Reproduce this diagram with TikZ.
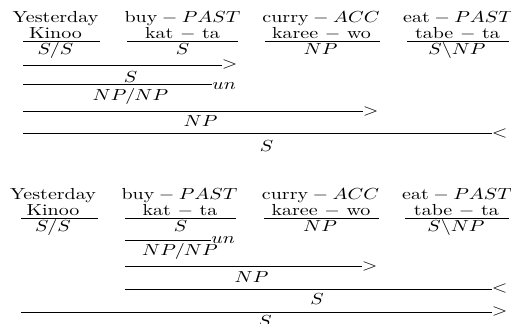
\documentclass[tikz,border=0pt]{standalone}
\newcommand{\sq}[1]{\scalebox{1}[0.8]{#1}}
\begin{document}
\begin{tikzpicture}[x=0.5pt,y=-0.5pt,
  wd/.style={anchor=base,inner sep=0pt,outer sep=0pt},
  rl/.style={anchor=west,inner sep=0pt,outer sep=0pt},
  ul/.style={anchor=base west,inner sep=0pt,outer sep=0pt},
  ln/.style={line width=0.45pt}]
\useasboundingbox (0,0) rectangle (511,324);

% ---------------- top derivation ----------------
\node[wd] (ty1) at (55.5,22.3) {\sq{Yesterday}};
\node[wd] (tk1) at (55.5,38.3) {\sq{Kinoo}};
\node[wd] (tc1) at (55.5,54.3) {\sq{$S/S$}};
\node[wd] (ty2) at (182.5,22.3) {\sq{$\mbox{buy}-PAST$}};
\node[wd] (tk2) at (182.5,38.3) {\sq{kat $-$ ta}};
\node[wd] (tc2) at (182.5,54.3) {\sq{$S$}};
\node[wd] (ty3) at (321,22.3) {\sq{$\mbox{curry}-ACC$}};
\node[wd] (tk3) at (321.5,38.3) {\sq{karee $-$ wo}};
\node[wd] (tc3) at (320.5,54.3) {\sq{$NP$}};
\node[wd] (ty4) at (458,22.3) {\sq{$\mbox{eat}-PAST$}};
\node[wd] (tk4) at (457.5,38.3) {\sq{tabe $-$ ta}};
\node[wd] (tc4) at (457,54.3) {\sq{$S\backslash NP$}};

\coordinate (tl1a) at (23,41.7);  \coordinate (tl1b) at (100,41.7);
\coordinate (tl2a) at (127,41.7); \coordinate (tl2b) at (238,41.7);
\coordinate (tl3a) at (265,41.7); \coordinate (tl3b) at (380,41.7);
\coordinate (tl4a) at (407,41.7); \coordinate (tl4b) at (509,41.7);
\draw[ln] (tl1a) -- (tl1b);
\draw[ln] (tl2a) -- (tl2b);
\draw[ln] (tl3a) -- (tl3b);
\draw[ln] (tl4a) -- (tl4b);

\coordinate (tr1a) at (23,65); \coordinate (tr1b) at (222,65);
\draw[ln] (tr1a) -- (tr1b);
\node[rl] (tr1l) at (tr1b) {\sq{$>$}};
\node[wd] (td1) at (130.5,82.8) {\sq{$S$}};

\coordinate (tr2a) at (23,84.7); \coordinate (tr2b) at (212,84.7);
\draw[ln] (tr2a) -- (tr2b);
\node[ul] (tr2l) at (212.5,89.8) {\sq{$un$}};
\node[wd] (td2) at (130.5,101) {\sq{$NP/NP$}};

\coordinate (tr3a) at (23,111.3); \coordinate (tr3b) at (363,111.3);
\draw[ln] (tr3a) -- (tr3b);
\node[rl] (tr3l) at (tr3b) {\sq{$>$}};
\node[wd] (td3) at (200.5,126.7) {\sq{$NP$}};

\coordinate (tr4a) at (23,133.3); \coordinate (tr4b) at (492,133.3);
\draw[ln] (tr4a) -- (tr4b);
\node[rl] (tr4l) at (tr4b) {\sq{$<$}};
\node[wd] (td4) at (266.5,152) {\sq{$S$}};

% ---------------- bottom derivation ----------------
\node[wd] (by1) at (53,199.3) {\sq{Yesterday}};
\node[wd] (bk1) at (53,215.3) {\sq{Kinoo}};
\node[wd] (bc1) at (53,231.3) {\sq{$S/S$}};
\node[wd] (by2) at (179.5,199.3) {\sq{$\mbox{buy}-PAST$}};
\node[wd] (bk2) at (180,215.3) {\sq{kat $-$ ta}};
\node[wd] (bc2) at (180.5,231.3) {\sq{$S$}};
\node[wd] (by3) at (320.5,199.3) {\sq{$\mbox{curry}-ACC$}};
\node[wd] (bk3) at (321,215.3) {\sq{karee $-$ wo}};
\node[wd] (bc3) at (320,231.3) {\sq{$NP$}};
\node[wd] (by4) at (457,199.3) {\sq{$\mbox{eat}-PAST$}};
\node[wd] (bk4) at (456.5,215.3) {\sq{tabe $-$ ta}};
\node[wd] (bc4) at (456,231.3) {\sq{$S\backslash NP$}};

\coordinate (bl1a) at (21,218.7);  \coordinate (bl1b) at (98,218.7);
\coordinate (bl2a) at (125,218.7); \coordinate (bl2b) at (236,218.7);
\coordinate (bl3a) at (264,218.7); \coordinate (bl3b) at (379,218.7);
\coordinate (bl4a) at (405,218.7); \coordinate (bl4b) at (509,218.7);
\draw[ln] (bl1a) -- (bl1b);
\draw[ln] (bl2a) -- (bl2b);
\draw[ln] (bl3a) -- (bl3b);
\draw[ln] (bl4a) -- (bl4b);

\coordinate (br1a) at (125,240); \coordinate (br1b) at (211,240);
\draw[ln] (br1a) -- (br1b);
\node[ul] (br1l) at (211.5,243.3) {\sq{$un$}};
\node[wd] (bd1) at (180,255.5) {\sq{$NP/NP$}};

\coordinate (br2a) at (125,266.7); \coordinate (br2b) at (362,266.7);
\draw[ln] (br2a) -- (br2b);
\node[rl] (br2l) at (br2b) {\sq{$>$}};
\node[wd] (bd2) at (251.5,283) {\sq{$NP$}};

\coordinate (br3a) at (125,289); \coordinate (br3b) at (492,289);
\draw[ln] (br3a) -- (br3b);
\node[rl] (br3l) at (br3b) {\sq{$<$}};
\node[wd] (bd3) at (317,305) {\sq{$S$}};

\coordinate (br4a) at (21,312); \coordinate (br4b) at (492,312);
\draw[ln] (br4a) -- (br4b);
\node[rl] (br4l) at (br4b) {\sq{$>$}};
\node[wd] (bd4) at (265,327) {\sq{$S$}};
\end{tikzpicture}
\end{document}
